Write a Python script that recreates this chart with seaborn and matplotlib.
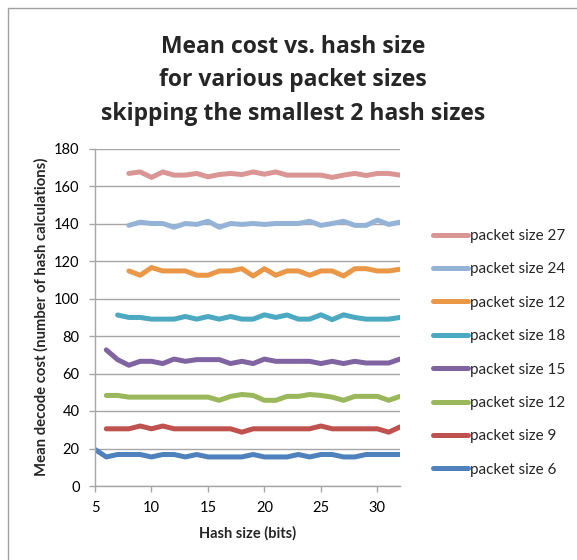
import matplotlib
matplotlib.use("Agg")
import matplotlib.pyplot as plt
import seaborn as sns
import pandas as pd
from matplotlib.patches import Rectangle

# ---- data ----
series_labels = ["packet size 6", "packet size 9", "packet size 12", "packet size 15",
                 "packet size 18", "packet size 12", "packet size 24", "packet size 27"]
series_colors = ["#4F81BD", "#BF524E", "#9BB75B", "#8064A2",
                 "#4BA9C2", "#EB9748", "#95B3D7", "#D99694"]
first_hash_size = [5, 6, 6, 6, 7, 8, 8, 8]
last_hash_size = 32

cost_6 = [19.5, 15.5, 16.8, 16.8, 16.8, 15.5, 16.8, 16.8, 15.5, 16.8, 15.5, 15.5, 15.5, 15.5,
          16.8, 15.5, 15.5, 15.5, 16.8, 15.5, 16.8, 16.8, 15.5, 15.5, 16.8, 16.8, 16.8, 16.8]
cost_9 = [30.5, 30.5, 30.5, 32.0, 30.5, 32.0, 30.5, 30.5, 30.5, 30.5, 30.5, 30.5, 28.7, 30.5,
          30.5, 30.5, 30.5, 30.5, 30.5, 32.0, 30.5, 30.5, 30.5, 30.5, 30.5, 28.7, 31.5]
cost_12b = [48.3, 48.3, 47.4, 47.4, 47.4, 47.4, 47.4, 47.4, 47.4, 47.4, 45.7, 47.8, 48.8, 48.3,
            45.7, 45.7, 47.8, 47.8, 48.8, 48.3, 47.4, 45.7, 47.8, 47.8, 47.8, 45.7, 47.8]
cost_15 = [72.6, 67.4, 64.4, 66.5, 66.5, 65.3, 67.7, 66.5, 67.4, 67.4, 67.4, 65.3, 66.5, 65.3,
           67.7, 66.5, 66.5, 66.5, 66.5, 65.3, 66.5, 65.3, 66.5, 65.6, 65.6, 65.6, 67.7]
cost_18 = [91.2, 89.9, 89.9, 89.0, 89.0, 89.0, 90.4, 89.0, 90.4, 89.0, 90.4, 89.0, 89.0, 91.3,
           89.9, 91.2, 89.0, 89.0, 91.3, 88.7, 91.3, 89.9, 89.0, 89.0, 89.0, 89.9]
cost_12a = [114.7, 112.4, 116.5, 114.7, 114.7, 114.7, 112.4, 112.4, 114.7, 114.7, 115.9, 112.0,
            115.9, 112.4, 114.7, 114.7, 112.4, 114.7, 114.7, 112.0, 115.9, 115.9, 114.7, 114.7, 115.6]
cost_24 = [139.0, 140.7, 140.0, 140.0, 138.0, 140.0, 139.5, 141.2, 138.0, 140.0, 139.5, 140.0,
           139.5, 140.0, 140.0, 140.0, 141.2, 139.0, 140.0, 141.2, 139.0, 139.0, 141.8, 139.5, 140.7]
cost_27 = [166.7, 167.5, 164.6, 167.5, 165.8, 165.8, 166.7, 164.9, 166.1, 166.7, 166.1, 167.5,
           166.3, 167.5, 165.8, 165.8, 165.8, 165.8, 164.6, 165.8, 166.7, 165.6, 166.7, 166.7, 165.8]
all_costs = [cost_6, cost_9, cost_12b, cost_15, cost_18, cost_12a, cost_24, cost_27]

title_lines = ["Mean cost vs. hash size", "for various packet sizes",
               "skipping the smallest 2 hash sizes"]
x_label = "Hash size (bits)"
y_label = "Mean decode cost (number of hash calculations)"
x_ticks = [5, 10, 15, 20, 25, 30]
y_ticks = [0, 20, 40, 60, 80, 100, 120, 140, 160, 180]

# ---- figure ----
sns.set_style("white")
plt.rcParams["font.family"] = ["Lato", "DejaVu Sans"]

W, H = 577, 560
fig = plt.figure(figsize=(W / 100, H / 100), dpi=100)
ax = fig.add_axes([95 / W, 1 - 486 / H, 305 / W, (486 - 148.5) / H])

for lab, col, start, cost in zip(series_labels, series_colors, first_hash_size, all_costs):
    df = pd.DataFrame({"hash": list(range(start, last_hash_size + 1)), "cost": cost})
    sns.lineplot(data=df, x="hash", y="cost", color=col, linewidth=3.6, label=lab,
                 ax=ax, solid_capstyle="round", solid_joinstyle="round")

ax.set_xlim(5, 32)
ax.set_ylim(0, 180)
ax.set_xticks(x_ticks)
ax.set_yticks(y_ticks)
ax.yaxis.grid(True, color="#A6A6A6", linewidth=1.0)
ax.xaxis.grid(False)
ax.set_axisbelow(True)
for s in ["top", "right"]:
    ax.spines[s].set_visible(False)
for s in ["left", "bottom"]:
    ax.spines[s].set_color("#A6A6A6")
    ax.spines[s].set_linewidth(1.0)
ax.tick_params(axis="both", which="both", direction="out", length=4, width=1.0,
               color="#A6A6A6", labelsize=10.5, labelcolor="black",
               left=True, bottom=True)
ax.tick_params(axis="x", pad=7)
ax.tick_params(axis="y", pad=7)
ax.set_xlabel(x_label, fontsize=10.5, fontweight="bold", labelpad=8)
ax.set_ylabel(y_label, fontsize=10.7, fontweight="bold")
ax.yaxis.set_label_coords(-46 / 305, 0.5)

handles, labels = ax.get_legend_handles_labels()
leg = ax.legend(handles[::-1], labels[::-1], loc="upper left",
                bbox_to_anchor=(433 / W, 1 - 229 / H), bbox_transform=fig.transFigure,
                frameon=False, fontsize=11, handlelength=2.3, handletextpad=0.1,
                labelspacing=1.27, borderaxespad=0, borderpad=0)

for i, line in enumerate(title_lines):
    fig.text(293 / W, 1 - (53 + 33.5 * i) / H, line, ha="center", va="baseline",
             fontsize=16.5, fontweight="bold", family=["Open Sans", "DejaVu Sans"])

fig.patches.append(Rectangle((8 / W, -0.05), 1.2, 1 - 8 / H + 0.05, transform=fig.transFigure,
                             fill=False, edgecolor="#A0A0A0", linewidth=1.0))

fig.savefig("out.png", dpi=100)
